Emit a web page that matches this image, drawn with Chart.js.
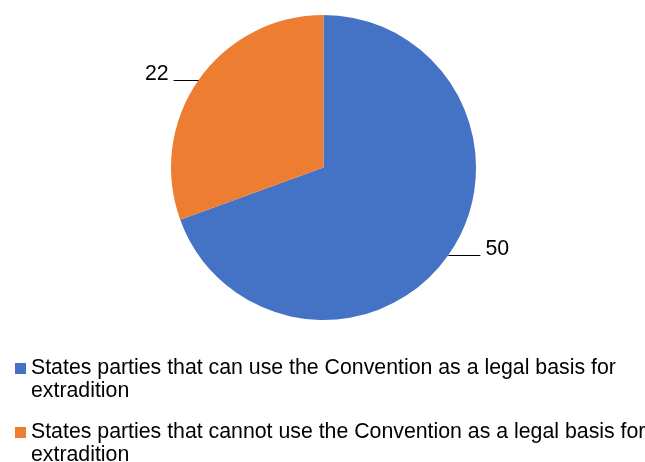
<!DOCTYPE html>
<html>
<head>
<meta charset="utf-8">
<script src="https://cdn.jsdelivr.net/npm/chart.js@4/dist/chart.umd.min.js"></script>
<style>
  html, body { margin: 0; padding: 0; background: #fff; }
  #wrap { width: 645px; height: 462px; }
</style>
</head>
<body>
<div id="wrap"><canvas id="pie-chart" width="645" height="462"></canvas></div>
<script>
// categories (legend text, split where the original wraps it)
const categories = [
    ['States parties that can use the Convention as a legal basis for', 'extradition'],
    ['States parties that cannot use the Convention as a legal basis for', 'extradition']
];
const counts = [50, 22];
const sliceColors = ['#4472C4', '#ED7D31'];

const FONT = '21.3px "Liberation Sans", Arial, sans-serif';

// value next to each slice with a short horizontal leader line
const leaderLabels = {
    id: 'leaderLabels',
    afterDatasetsDraw(chart) {
        const ctx = chart.ctx;
        const meta = chart.getDatasetMeta(0);
        ctx.save();
        ctx.font = FONT;
        ctx.textBaseline = 'middle';
        ctx.strokeStyle = '#000';
        ctx.fillStyle = '#000';
        ctx.lineWidth = 1;
        meta.data.forEach((arc, i) => {
            const mid = (arc.startAngle + arc.endAngle) / 2;
            const ex = arc.x + Math.cos(mid) * arc.outerRadius;
            const ey = arc.y + Math.sin(mid) * arc.outerRadius;
            const dir = Math.cos(mid) >= 0 ? 1 : -1;
            const lx = ex + dir * (dir > 0 ? 32 : 25);
            ctx.beginPath();
            ctx.moveTo(ex, Math.round(ey) + 0.5);
            ctx.lineTo(lx, Math.round(ey) + 0.5);
            ctx.stroke();
            ctx.textAlign = dir > 0 ? 'left' : 'right';
            ctx.fillText(String(chart.data.datasets[0].data[i]), lx + dir * 5, ey - 6);
        });
        ctx.restore();
    }
};

// legend with wrapped text, square marker next to the first line
const wrappedLegend = {
    id: 'wrappedLegend',
    afterDraw(chart) {
        const ctx = chart.ctx;
        const ds = chart.data.datasets[0];
        const lineH = 23;
        let y = chart.chartArea.bottom + 48;
        ctx.save();
        ctx.font = FONT;
        ctx.textBaseline = 'middle';
        ctx.textAlign = 'left';
        chart.data.labels.forEach((lines, i) => {
            ctx.fillStyle = ds.backgroundColor[i];
            ctx.fillRect(15, y - 5, 11, 11);
            ctx.fillStyle = '#000';
            lines.forEach((t, j) => ctx.fillText(t, 31, y + j * lineH));
            y += 64;
        });
        ctx.restore();
    }
};

new Chart(document.querySelector('#pie-chart').getContext('2d'), {
    type: 'pie',
    data: {
        labels: categories,
        datasets: [{
            data: counts,
            backgroundColor: sliceColors,
            borderWidth: 0
        }]
    },
    options: {
        responsive: false,
        animation: false,
        layout: { padding: { top: 15, bottom: 142, left: 2 } },
        plugins: {
            tooltip: { enabled: false },
            legend: { display: false }
        }
    },
    plugins: [leaderLabels, wrappedLegend]
});
</script>
</body>
</html>
